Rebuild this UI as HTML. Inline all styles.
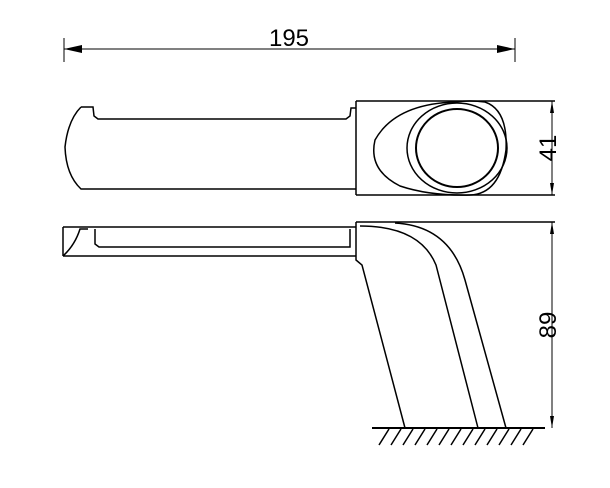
<!DOCTYPE html>
<html><head><style>body{margin:0;background:#fff}svg{display:block}</style></head><body>
<svg width="610" height="488" viewBox="0 0 610 488" xmlns="http://www.w3.org/2000/svg" fill="none" stroke="#000" stroke-width="1.5" font-family="Liberation Sans, sans-serif">
<!-- top dimension -->
<line x1="64" y1="38" x2="64" y2="62" stroke-width="1"/>
<line x1="515" y1="38" x2="515" y2="62" stroke-width="1"/>
<line x1="64" y1="49" x2="515" y2="49" stroke-width="1"/>
<path d="M64 49 L82 45 L82 53 Z M515 49 L497 45 L497 53 Z" fill="#000" stroke="none"/>
<text x="289" y="46" font-size="24" fill="#000" stroke="none" text-anchor="middle">195</text>
<!-- top view -->
<path d="M356 101 H555 M356 195 H555 M356 101 V195"/>
<path d="M81 107 H93 L94 116 L98 119 H346 L350 116 L351 108 H356"/>
<path d="M81 107 Q68 120 65 147 Q66 175 81 189 H356"/>
<line x1="552" y1="101" x2="552" y2="195" stroke-width="1"/>
<path d="M552 101 l-2 12 h4 Z M552 195 l-2 -12 h4 Z" fill="#000" stroke="none"/>
<text transform="translate(556 148) rotate(-90)" font-size="24" fill="#000" stroke="none" text-anchor="middle">41</text>
<ellipse cx="457" cy="148" rx="41" ry="39" stroke-width="2"/>
<ellipse cx="457" cy="148" rx="50" ry="45"/>
<path d="M455 102 Q395 104 375 140 Q368 170 400 186 Q430 196 470 195 Q500 194 506 150 Q508 110 485 102 Q470 100 455 102"/>
<!-- front view -->
<path d="M63 227 H356 M63 256 H356 M63 227 V256"/>
<path d="M63 256 Q75 245 80 229 H88 M95 229 V244 L99 247 H350 V229"/>
<path d="M356 222 H555 M356 222 V260 L362 265 L405 428"/>
<path d="M360 226 Q420 226 436 265 L478 428"/>
<path d="M395 223 Q450 226 465 280 L506 428"/>
<line x1="372" y1="428" x2="545" y2="428" stroke-width="2"/>
<path d="M379 445 l10 -16 M391 445 l10 -16 M403 445 l10 -16 M415 445 l10 -16 M427 445 l10 -16 M439 445 l10 -16 M451 445 l10 -16 M463 445 l10 -16 M475 445 l10 -16 M487 445 l10 -16 M499 445 l10 -16 M511 445 l10 -16 M523 445 l10 -16"/>
<line x1="552" y1="222" x2="552" y2="428" stroke-width="1"/>
<path d="M552 222 l-2 12 h4 Z M552 428 l-2 -12 h4 Z" fill="#000" stroke="none"/>
<text transform="translate(556 325) rotate(-90)" font-size="24" fill="#000" stroke="none" text-anchor="middle">89</text>
</svg>
</body></html>
